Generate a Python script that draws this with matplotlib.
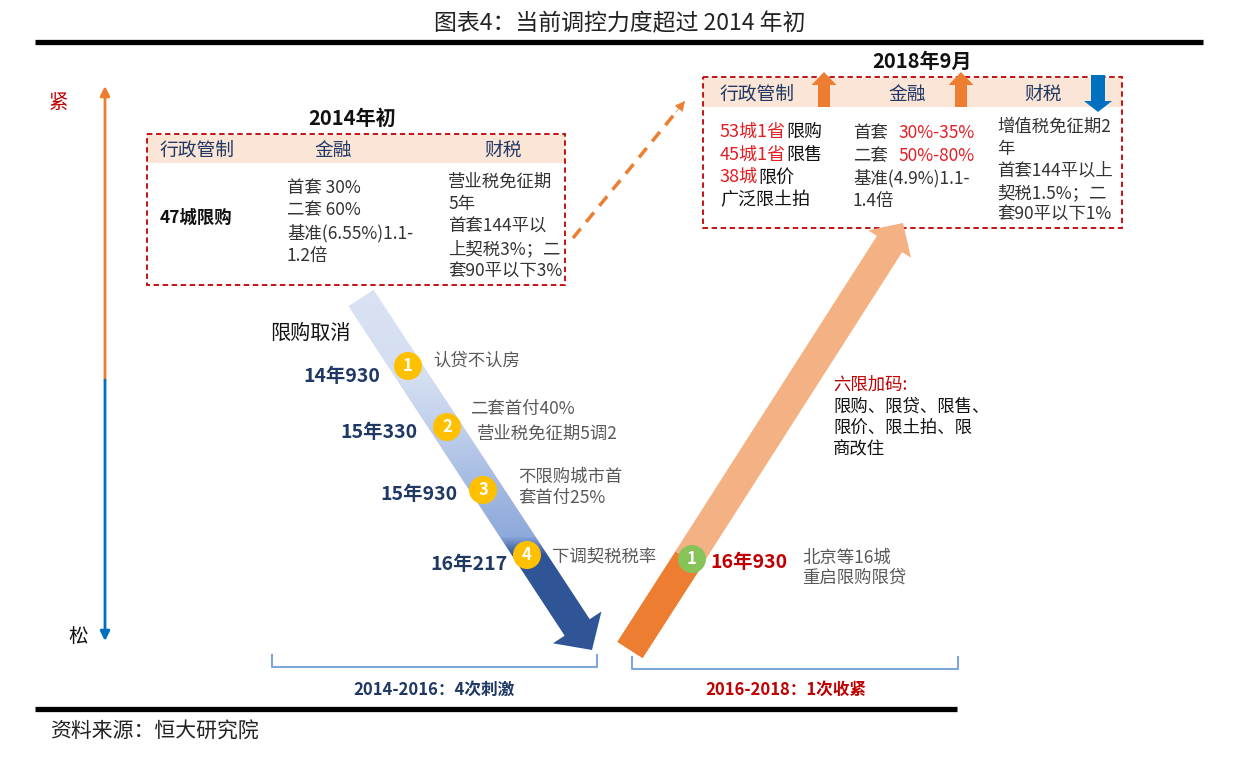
import matplotlib
matplotlib.use("Agg")
import matplotlib.pyplot as plt
import matplotlib.patches as mpatches
from matplotlib.colors import LinearSegmentedColormap
import numpy as np

plt.rcParams['font.family'] = ['Noto Sans CJK SC', 'DejaVu Sans']

# ---- chart texts ----
title = "图表4：当前调控力度超过 2014 年初"
source = "资料来源：恒大研究院"
axis_labels = ["紧", "松"]
policy_headers = ["行政管制", "金融", "财税"]

early2014_title = "2014年初"
early2014_admin = "47城限购"
early2014_finance = ["首套 30%", "二套 60%", "基准(6.55%)1.1-", "1.2倍"]
early2014_tax = ["营业税免征期", "5年", "首套144平以", "上契税3%；二", "套90平以下3%"]

sep2018_title = "2018年9月"
sep2018_admin = [("53城1省", "限购"), ("45城1省", "限售"), ("38城", "限价"), ("", "广泛限土拍")]
sep2018_finance = [("首套", "30%-35%"), ("二套", "50%-80%"), ("基准(4.9%)1.1-", ""), ("1.4倍", "")]
sep2018_tax = ["增值税免征期2", "年", "首套144平以上", "契税1.5%；二", "套90平以下1%"]
sep2018_direction = ["up", "up", "down"]

cancel_label = "限购取消"
stimulus_dates = ["14年930", "15年330", "15年930", "16年217"]
stimulus_notes = [["认贷不认房"], ["二套首付40%", "营业税免征期5调2"],
                  ["不限购城市首", "套首付25%"], ["下调契税税率"]]
tighten_dates = ["16年930"]
tighten_notes = [["北京等16城", "重启限购限贷"]]
six_limits_title = "六限加码:"
six_limits = ["限购、限贷、限售、", "限价、限土拍、限", "商改住"]
period_labels = ["2014-2016：4次刺激", "2016-2018：1次收紧"]

# ---- colours ----
navy = "#1F3864"
red = "#C00000"
bright_red = "#E31E24"
orange = "#ED7D31"
light_orange = "#F4B183"
blue = "#0070C0"
gray = "#595959"
peach = "#FBE5D6"

body_size = 12.5


def arrow_poly(start, tip, width, head_w, head_l):
    s = np.array(start, float)
    t = np.array(tip, float)
    d = (t - s) / np.linalg.norm(t - s)
    n = np.array([-d[1], d[0]])
    b = t - d * head_l
    return [s + n * width / 2, b + n * width / 2, b + n * head_w / 2, t,
            b - n * head_w / 2, b - n * width / 2, s - n * width / 2]


def band_poly(start, end, width):
    s = np.array(start, float)
    e = np.array(end, float)
    d = (e - s) / np.linalg.norm(e - s)
    n = np.array([-d[1], d[0]])
    return [s + n * width / 2, e + n * width / 2, e - n * width / 2, s - n * width / 2]


def multi_color(ax, x, y, parts, size, gap=0):
    prev = None
    for txt, col in parts:
        if not txt:
            continue
        if prev is None:
            prev = ax.text(x, y, txt, ha='left', va='center', fontsize=size, color=col)
        else:
            prev = ax.annotate(txt, xy=(1, 0), xycoords=prev, xytext=(gap, 0),
                               textcoords='offset points', ha='left', va='bottom',
                               fontsize=size, color=col)


fig = plt.figure(figsize=(12.54, 7.68), dpi=100)
ax = fig.add_axes([0, 0, 1, 1])

# title and rules
ax.text(620, 24, title, ha='center', va='center', fontsize=16.5, color='#222222')
ax.plot([35, 1203], [42, 42], color='black', lw=3.8, solid_capstyle='butt')
ax.plot([35, 957], [709, 709], color='black', lw=3.8, solid_capstyle='butt')
ax.text(50, 732, source, ha='left', va='center', fontsize=15, color='#222222', style='italic')

# tight / loose axis
ax.annotate('', xy=(105, 86), xytext=(105, 380),
            arrowprops=dict(arrowstyle='-|>', color=orange, lw=2, mutation_scale=14, shrinkA=0, shrinkB=0))
ax.annotate('', xy=(105, 641), xytext=(105, 380),
            arrowprops=dict(arrowstyle='-|>', color=blue, lw=2, mutation_scale=14, shrinkA=0, shrinkB=0))
ax.text(58, 102, axis_labels[0], ha='center', va='center', fontsize=14, color=red)
ax.text(78, 637, axis_labels[1], ha='center', va='center', fontsize=14, color='#111111')

# box 2014
ax.text(352, 118, early2014_title, ha='center', va='center', fontsize=14.5, weight='bold', color='#111111')
ax.add_patch(mpatches.Rectangle((147, 135), 418, 28, fc=peach, ec='none'))
ax.add_patch(mpatches.Rectangle((147, 134), 418, 151, fill=False, ec=red, lw=1.3, ls=(0, (3, 2))))
for hx, h in zip([197, 333, 503], policy_headers):
    ax.text(hx, 150, h, ha='center', va='center', fontsize=13.5, color=navy)
ax.text(160, 218, early2014_admin, ha='left', va='center', fontsize=12.5, weight='bold', color='#111111')
for i, line in enumerate(early2014_finance):
    ax.text(287, 188 + 22.5 * i, line, ha='left', va='center', fontsize=body_size, color='#333333')
for i, line in enumerate(early2014_tax):
    ax.text(448, 182 + 22.5 * i, line, ha='left', va='center', fontsize=body_size, color='#333333')

# dashed link arrow
ax.plot([573, 677], [238, 111], color=orange, lw=2.5, ls=(0, (3.5, 2.5)))
ax.annotate('', xy=(685, 101), xytext=(676, 112),
            arrowprops=dict(arrowstyle='-|>', color=orange, lw=0.5, mutation_scale=16, shrinkA=0, shrinkB=0))

# box 2018
ax.text(922, 61, sep2018_title, ha='center', va='center', fontsize=14.5, weight='bold', color='#111111')
ax.add_patch(mpatches.Rectangle((703, 78), 419, 29, fc=peach, ec='none'))
ax.add_patch(mpatches.Rectangle((703, 77), 419, 151, fill=False, ec=red, lw=1.3, ls=(0, (3, 2))))
for hx, h in zip([757, 907, 1043], policy_headers):
    ax.text(hx, 94, h, ha='center', va='center', fontsize=13.5, color=navy)
for ax_x, dirn in zip([824, 961, 1098], sep2018_direction):
    if dirn == "up":
        ax.add_patch(mpatches.FancyArrow(ax_x, 107, 0, -35, width=12, head_width=25, head_length=13,
                                         length_includes_head=True, color=orange, lw=0))
    else:
        ax.add_patch(mpatches.FancyArrow(ax_x, 75, 0, 37, width=14, head_width=28, head_length=11,
                                         length_includes_head=True, color=blue, lw=0))
for i, (num, rest) in enumerate(sep2018_admin):
    multi_color(ax, 720, 132 + 22.7 * i, [(num, bright_red), (rest, '#111111')], 13)
for i, (lead, val) in enumerate(sep2018_finance):
    multi_color(ax, 853, 133 + 22.7 * i, [(lead, '#333333'), (val, bright_red)], body_size, gap=8)
for i, line in enumerate(sep2018_tax):
    ax.text(997, 127 + 22 * i, line, ha='left', va='center', fontsize=body_size, color='#333333')

# big blue arrow with gradient
blue_patch = mpatches.Polygon(arrow_poly((361, 298), (592, 650), 30, 58, 27), closed=True, fc='none', ec='none')
ax.add_patch(blue_patch)
blue_cmap = LinearSegmentedColormap.from_list(
    'bl', [(0.0, '#DAE3F3'), (0.25, '#D3DEF1'), (0.39, '#BECEEB'), (0.55, '#A1B8E1'),
           (0.67, '#8EA9DB'), (0.72, '#2F5597'), (1.0, '#2F5597')])
grad = blue_cmap(np.linspace(0, 1, 400))[:, None, :]
ax.imshow(grad, extent=(330, 620, 660, 285), aspect='auto', clip_path=blue_patch, zorder=2,
          interpolation='bilinear')

# big orange arrow
ax.add_patch(mpatches.Polygon(arrow_poly((630, 650), (903, 223), 30, 51, 25), closed=True,
                              fc=light_orange, ec='none', zorder=2))
ax.add_patch(mpatches.Polygon(band_poly((630, 650), (688, 560), 30), closed=True,
                              fc=orange, ec='none', zorder=2))

# stimulus markers
ax.text(270, 333, cancel_label, ha='left', va='center', fontsize=14.5, color='#111111')
circle_xy = [(408, 366), (447, 427), (483, 490), (527, 555)]
date_xy = [(380, 377), (418, 433), (457, 494), (507, 564)]
note_xy = [[(433, 361)], [(470, 409), (477, 434)], [(518, 477), (518, 498)], [(552, 557)]]
for i, (cxy, dxy) in enumerate(zip(circle_xy, date_xy)):
    ax.add_patch(mpatches.Circle(cxy, 14, fc='#FFC000', ec='none', zorder=3))
    ax.text(cxy[0], cxy[1], str(i + 1), ha='center', va='center', fontsize=12, weight='bold',
            color='white', zorder=4)
    ax.text(dxy[0], dxy[1], stimulus_dates[i], ha='right', va='center', fontsize=14, weight='bold',
            color=navy, zorder=4)
    for (nx, ny), line in zip(note_xy[i], stimulus_notes[i]):
        ax.text(nx, ny, line, ha='left', va='center', fontsize=body_size, color=gray, zorder=4)

# tightening marker
ax.add_patch(mpatches.Circle((692, 559), 14, fc='#86C45A', ec='none', zorder=3))
ax.text(692, 559, "1", ha='center', va='center', fontsize=12, weight='bold', color='white', zorder=4)
ax.text(710, 562, tighten_dates[0], ha='left', va='center', fontsize=14, weight='bold', color=red)
for i, line in enumerate(tighten_notes[0]):
    ax.text(802, 558 + 20 * i, line, ha='left', va='center', fontsize=body_size, color=gray)
ax.text(833, 385, six_limits_title, ha='left', va='center', fontsize=12.5, color=red)
for i, line in enumerate(six_limits):
    ax.text(833, 407 + 21 * i, line, ha='left', va='center', fontsize=12.5, color='#111111')

# period brackets
ax.plot([272, 272, 597, 597], [655, 667, 667, 655], color='#7EA6D9', lw=1.5)
ax.plot([632, 632, 958, 958], [657, 669, 669, 657], color='#7EA6D9', lw=1.5)
ax.text(434, 690, period_labels[0], ha='center', va='center', fontsize=12, weight='bold', color=navy)
ax.text(786, 690, period_labels[1], ha='center', va='center', fontsize=12, weight='bold', color=red)

ax.set_xlim(0, 1254)
ax.set_ylim(768, 0)
ax.axis('off')

fig.savefig("out.png", dpi=100)
